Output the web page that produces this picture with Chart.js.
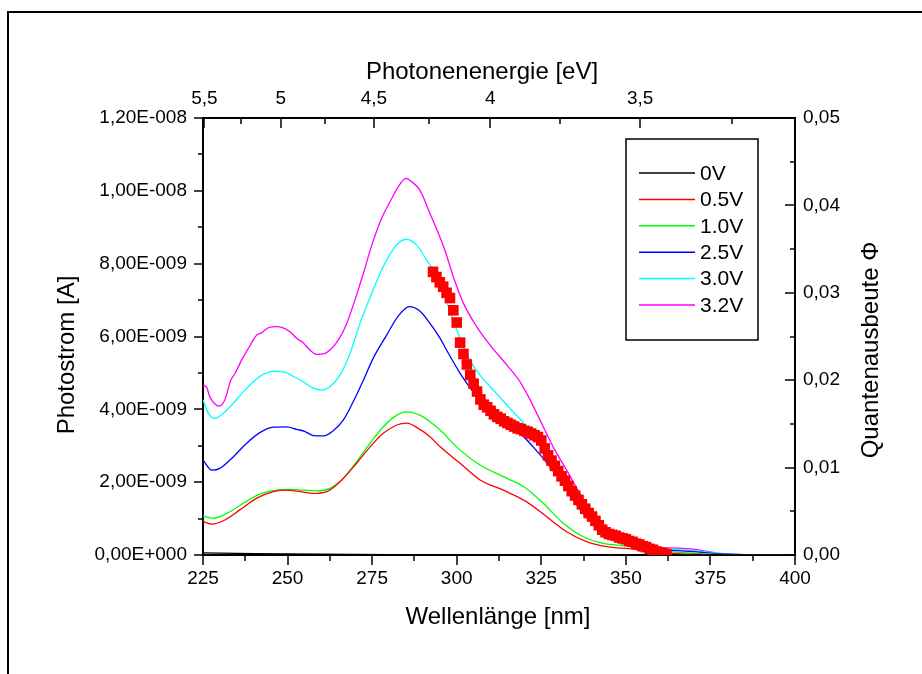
<!DOCTYPE html>
<html>
<head>
<meta charset="utf-8">
<script src="https://cdn.jsdelivr.net/npm/chart.js@4.4.1/dist/chart.umd.min.js"></script>
<style>
  body { margin: 0; background: #fff; }
  canvas { display: block; }
</style>
</head>
<body>
<canvas id="chart" width="922" height="674"></canvas>
<script>
// photocurrent values in units of 1e-9 A
const lambda0V = [225, 240, 260, 280, 300, 350, 398];
const current0V = [0.06, 0.04, 0.02, 0.01, 0.005, 0, 0];

const lambda05V = [225, 227.6, 231, 235.9, 240.9, 245.8, 249.7, 253.7, 257.6, 261.6, 265.5, 270.4, 274.4, 278.3, 282.3, 285.2, 289.1, 292.1, 295.1, 301, 306.9, 313.8, 320.7, 326.6, 332.5, 338.4, 344.3, 352.2, 356, 360, 365, 370, 378, 390, 398];
const current05V = [0.92, 0.85, 0.94, 1.24, 1.56, 1.74, 1.78, 1.74, 1.69, 1.74, 2.01, 2.52, 2.97, 3.34, 3.57, 3.62, 3.45, 3.25, 2.97, 2.52, 2.06, 1.78, 1.46, 1.05, 0.64, 0.37, 0.23, 0.16, 0.10, 0.07, 0.04, 0.02, 0.005, 0, 0];

const lambda10V = [225, 228, 232, 236.9, 241.8, 246.8, 250.7, 254.6, 258.6, 262.5, 266.5, 270.4, 274.4, 278.3, 282.3, 285.2, 289.1, 292.1, 295.1, 301, 306.9, 313.8, 319.7, 325.6, 331.5, 337.4, 343.3, 350.2, 355, 360, 365, 370, 375, 380, 390, 398];
const current10V = [1.07, 1.01, 1.14, 1.42, 1.67, 1.78, 1.80, 1.78, 1.76, 1.83, 2.11, 2.56, 3.07, 3.52, 3.84, 3.93, 3.84, 3.66, 3.43, 2.88, 2.47, 2.15, 1.88, 1.42, 0.87, 0.50, 0.32, 0.25, 0.18, 0.12, 0.08, 0.05, 0.02, 0.01, 0, 0];

const lambda25V = [225, 227.6, 230, 234, 237.9, 241.8, 245.8, 249.7, 252.7, 255.2, 257.6, 260.6, 263.5, 266.5, 269.4, 272.4, 275.3, 279.3, 282.7, 286, 289.1, 292.1, 295.1, 297, 301, 305.9, 311.8, 318.7, 322.6, 327.6, 332.5, 337.4, 341.4, 345, 350, 355, 360, 365, 370, 375, 380, 390, 398];
const current25V = [2.61, 2.33, 2.38, 2.70, 3.07, 3.36, 3.51, 3.52, 3.45, 3.39, 3.28, 3.27, 3.41, 3.71, 4.21, 4.80, 5.40, 6.04, 6.56, 6.82, 6.70, 6.36, 5.95, 5.63, 4.99, 4.35, 3.71, 3.34, 2.97, 2.42, 1.78, 1.14, 0.78, 0.50, 0.30, 0.20, 0.14, 0.12, 0.09, 0.05, 0.02, 0, 0];

const lambda30V = [225, 226.6, 228.5, 231, 234, 236.9, 239.9, 242.8, 246.3, 249.2, 252.2, 254.6, 257.6, 260.1, 262.5, 265.5, 268.5, 271.4, 274.9, 278.3, 281.8, 285, 288.2, 291.1, 294, 300, 303.9, 306.9, 310.8, 315.7, 320.7, 325.6, 330.5, 335.4, 340.4, 345, 350, 355, 360, 365, 370, 375, 380, 388, 398];
const current30V = [4.26, 3.89, 3.75, 3.89, 4.17, 4.48, 4.76, 4.96, 5.05, 5.02, 4.88, 4.76, 4.58, 4.53, 4.62, 4.94, 5.54, 6.36, 7.19, 7.92, 8.47, 8.67, 8.51, 8.10, 7.70, 6.18, 5.35, 4.94, 4.53, 4.03, 3.52, 2.88, 2.15, 1.42, 0.87, 0.50, 0.33, 0.22, 0.17, 0.15, 0.12, 0.07, 0.03, 0.01, 0];

const lambda32V = [225, 226, 227, 229.8, 231.5, 233.2, 234.5, 236.4, 238.4, 240.9, 242.3, 244.3, 246.8, 248.3, 250.7, 252.7, 254.6, 256.6, 258.6, 260.6, 262.5, 265, 267.5, 269.9, 272.4, 274.9, 277.8, 280.3, 282.7, 285, 286.7, 289.1, 292.1, 296.5, 299, 302, 305.9, 309.8, 314.8, 318.7, 321.7, 324.6, 328.5, 332.5, 336.4, 340.4, 344.3, 350.2, 354.2, 356, 360, 365, 370, 374, 378, 383, 390, 398];
const current32V = [4.65, 4.62, 4.35, 4.09, 4.27, 4.80, 4.99, 5.35, 5.67, 6.04, 6.10, 6.24, 6.27, 6.25, 6.13, 5.95, 5.83, 5.63, 5.51, 5.52, 5.63, 5.90, 6.36, 7.00, 7.73, 8.51, 9.25, 9.70, 10.11, 10.34, 10.25, 10.02, 9.38, 8.37, 7.64, 6.91, 6.27, 5.77, 5.22, 4.76, 4.26, 3.71, 2.97, 2.33, 1.69, 1.14, 0.73, 0.50, 0.27, 0.22, 0.20, 0.19, 0.16, 0.10, 0.04, 0.01, 0, 0];

// quantum yield (right axis)
const lambdaPhi = [293, 294, 295, 296, 297, 298, 299, 300, 301, 302, 303, 304, 305, 306, 307, 308, 309, 310, 311, 312, 313, 314, 315, 316, 317, 318, 319, 320, 321, 322, 323, 324, 325, 326, 327, 328, 329, 330, 331, 332, 333, 334, 335, 336, 337, 338, 339, 340, 341, 342, 343, 344, 345, 346, 347, 348, 349, 350, 351, 352, 353, 354, 355, 356, 357, 358, 359, 360, 361, 362];
const phi = [0.0324, 0.0318, 0.0312, 0.0307, 0.0300, 0.0294, 0.0280, 0.0266, 0.0243, 0.0230, 0.0218, 0.0206, 0.0196, 0.0187, 0.0178, 0.0172, 0.0169, 0.0165, 0.0161, 0.0158, 0.0156, 0.0153, 0.0151, 0.0149, 0.0147, 0.0145, 0.0144, 0.0142, 0.0141, 0.0139, 0.0137, 0.0135, 0.0131, 0.0122, 0.0114, 0.0108, 0.0102, 0.0096, 0.0090, 0.0085, 0.0079, 0.0073, 0.0068, 0.0063, 0.0058, 0.0053, 0.0048, 0.0044, 0.0039, 0.0034, 0.0029, 0.0026, 0.0024, 0.0023, 0.0022, 0.0020, 0.0019, 0.0018, 0.0016, 0.0015, 0.0013, 0.0012, 0.0010, 0.0009, 0.0007, 0.0006, 0.0004, 0.0003, 0.0002, 0.0001];

// top axis: photon energy ticks
const energyMajor = [5.5, 5, 4.5, 4, 3.5];
const energyMinor = [5.25, 4.75, 4.25, 3.75, 3.25];
const HC = 1239.84;

const FONT = '"Liberation Sans", Arial, sans-serif';

function toPoints(xs, ys) {
    return xs.map((x, i) => ({ x: x, y: ys[i] }));
}

function sciLabel(v) {
    if (Math.abs(v) < 1e-15) return '0,00E+000';
    let exp = Math.floor(Math.log10(Math.abs(v)) + 1e-9);
    let m = v / Math.pow(10, exp);
    let s = m.toFixed(2).replace('.', ',');
    return s + 'E' + (exp < 0 ? '-' : '+') + String(Math.abs(exp)).padStart(3, '0');
}

function lineSet(label, xs, ys, color) {
    return {
        label: label,
        data: toPoints(xs, ys),
        borderColor: color,
        backgroundColor: color,
        borderWidth: 1.3,
        pointRadius: 0,
        cubicInterpolationMode: 'monotone',
        xAxisID: 'x',
        yAxisID: 'y'
    };
}

const framePlugin = {
    id: 'frame',
    beforeDraw(chart) {
        const c = chart.ctx;
        c.save();
        c.fillStyle = '#fff';
        c.fillRect(0, 0, chart.width, chart.height);
        c.strokeStyle = '#000';
        c.lineWidth = 2;
        c.beginPath();
        c.moveTo(8, chart.height);
        c.lineTo(8, 12);
        c.lineTo(chart.width, 12);
        c.stroke();
        c.restore();
    },
    afterDraw(chart) {
        const c = chart.ctx;
        const s = chart.scales;
        c.save();
        c.strokeStyle = '#000';
        c.lineWidth = 1.5;

        // ticks: horizontal axes point down, vertical axes point left
        function hTicks(scale, y0, values, len) {
            for (const v of values) {
                const x = Math.round(scale.getPixelForValue(v));
                c.beginPath(); c.moveTo(x, y0); c.lineTo(x, y0 + len); c.stroke();
            }
        }
        function vTicks(scale, x0, values, len) {
            for (const v of values) {
                const y = Math.round(scale.getPixelForValue(v));
                c.beginPath(); c.moveTo(x0, y); c.lineTo(x0 - len, y); c.stroke();
            }
        }
        const xMaj = [], xMin = [];
        for (let v = 225; v <= 400; v += 25) xMaj.push(v);
        for (let v = 237.5; v < 400; v += 25) xMin.push(v);
        hTicks(s.x, s.x.top, xMaj, 10);
        hTicks(s.x, s.x.top, xMin, 6);
        hTicks(s.x2, s.x2.bottom, energyMajor.map(e => HC / e), 10);
        hTicks(s.x2, s.x2.bottom, energyMinor.map(e => HC / e), 6);
        const yMaj = [], yMin = [];
        for (let v = 0; v <= 12; v += 2) yMaj.push(v);
        for (let v = 1; v < 12; v += 2) yMin.push(v);
        vTicks(s.y, s.y.right, yMaj, 9);
        vTicks(s.y, s.y.right, yMin, 5);
        const rMaj = [], rMin = [];
        for (let i = 0; i <= 5; i++) rMaj.push(i * 0.01);
        for (let i = 0; i < 5; i++) rMin.push(i * 0.01 + 0.005);
        vTicks(s.y2, s.y2.left, rMaj, 10);
        vTicks(s.y2, s.y2.left, rMin, 5);

        // axis titles
        c.fillStyle = '#000';
        c.font = '24px ' + FONT;
        c.textAlign = 'center';
        c.textBaseline = 'middle';
        c.fillText('Photonenenergie [eV]', 482, 72);
        c.fillText('Wellenlänge [nm]', 498, 617);
        c.save();
        c.translate(67, 355);
        c.rotate(-Math.PI / 2);
        c.fillText('Photostrom [A]', 0, 0);
        c.restore();
        c.save();
        c.translate(871, 350);
        c.rotate(-Math.PI / 2);
        c.fillText('Quantenausbeute Φ', 0, 0);
        c.restore();

        // legend box
        const lx = 626, ly = 139, lw = 132, lh = 201;
        c.fillStyle = '#fff';
        c.fillRect(lx, ly, lw, lh);
        c.lineWidth = 1.5;
        c.strokeStyle = '#000';
        c.strokeRect(lx, ly, lw, lh);
        c.font = '21px ' + FONT;
        c.textAlign = 'left';
        const lineSets = chart.data.datasets.filter(d => d.yAxisID === 'y');
        lineSets.forEach((d, i) => {
            const yy = 173 + i * 26.4;
            c.strokeStyle = d.borderColor;
            c.lineWidth = 1.5;
            c.beginPath(); c.moveTo(639, yy); c.lineTo(695, yy); c.stroke();
            c.fillStyle = '#000';
            c.fillText(d.label, 700, yy + 1);
        });
        c.restore();
    }
};

const tickFont = { family: FONT, size: 19 };

const chart = new Chart(document.getElementById('chart'), {
    type: 'line',
    data: {
        datasets: [
            {
                label: 'Φ',
                data: toPoints(lambdaPhi, phi),
                showLine: false,
                pointStyle: 'rect',
                pointRadius: 7.5,
                pointBorderWidth: 0,
                backgroundColor: '#ff0000',
                borderColor: '#ff0000',
                xAxisID: 'x',
                yAxisID: 'y2',
                order: -1
            },
            lineSet('0V', lambda0V, current0V, '#000000'),
            lineSet('0.5V', lambda05V, current05V, '#ff0000'),
            lineSet('1.0V', lambda10V, current10V, '#00ff00'),
            lineSet('2.5V', lambda25V, current25V, '#0000ff'),
            lineSet('3.0V', lambda30V, current30V, '#00ffff'),
            lineSet('3.2V', lambda32V, current32V, '#ff00ff')
        ]
    },
    options: {
        responsive: false,
        animation: false,
        layout: { padding: 0 },
        plugins: { legend: { display: false }, tooltip: { enabled: false } },
        scales: {
            x: {
                type: 'linear', position: 'bottom', min: 225, max: 400,
                ticks: { stepSize: 25, font: tickFont, color: '#000', padding: 12, maxRotation: 0 },
                grid: { drawOnChartArea: false, drawTicks: false },
                border: { color: '#000', width: 2 },
                afterFit: s => { s.height = 119; }
            },
            x2: {
                type: 'linear', position: 'top', min: 225, max: 400,
                afterBuildTicks: s => { s.ticks = energyMajor.map(e => ({ value: HC / e })); },
                ticks: {
                    font: tickFont, color: '#000', padding: 8, maxRotation: 0, autoSkip: false,
                    callback: v => String(Math.round(HC / v * 2) / 2).replace('.', ',')
                },
                grid: { drawOnChartArea: false, drawTicks: false },
                border: { color: '#000', width: 2 },
                afterFit: s => { s.height = 118; }
            },
            y: {
                type: 'linear', position: 'left', min: 0, max: 12,
                ticks: { stepSize: 2, font: tickFont, color: '#000', padding: 16, callback: v => sciLabel(v * 1e-9) },
                grid: { drawOnChartArea: false, drawTicks: false },
                border: { color: '#000', width: 2 },
                afterFit: s => { s.width = 203; }
            },
            y2: {
                type: 'linear', position: 'right', min: 0, max: 0.05,
                ticks: { stepSize: 0.01, font: tickFont, color: '#000', padding: 8, callback: v => v.toFixed(2).replace('.', ',') },
                grid: { drawOnChartArea: false, drawTicks: false },
                border: { color: '#000', width: 2 },
                afterFit: s => { s.width = 127; }
            }
        }
    },
    plugins: [framePlugin]
});
</script>
</body>
</html>
